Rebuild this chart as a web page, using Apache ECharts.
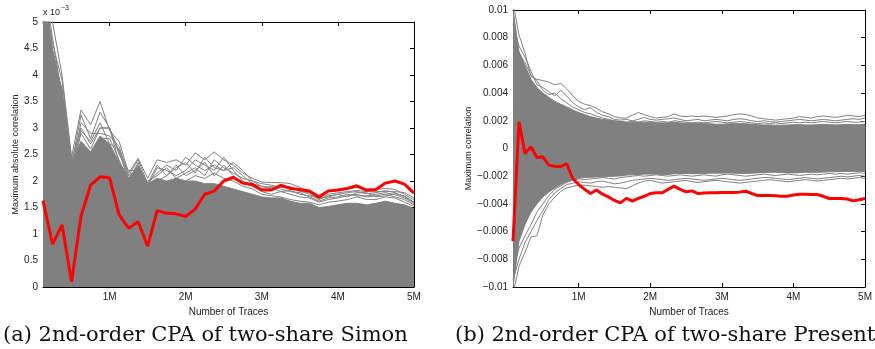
<!DOCTYPE html>
<html>
<head>
<meta charset="utf-8">
<script src="https://cdn.jsdelivr.net/npm/echarts@6/dist/echarts.min.js"></script>
<style>
html, body { margin: 0; padding: 0; background: #fff; }
#chart { width: 875px; height: 349px; }
</style>
</head>
<body>
<div id="chart"></div>
<script>
// (a) Simon: number of traces in millions, correlation in units of 1e-3
var tracesA = [0.125, 0.25, 0.375, 0.5, 0.625, 0.75, 0.875, 1, 1.125, 1.25,
    1.375, 1.5, 1.625, 1.75, 1.875, 2, 2.125, 2.25, 2.375, 2.5,
    2.625, 2.75, 2.875, 3, 3.125, 3.25, 3.375, 3.5, 3.625, 3.75,
    3.875, 4, 4.125, 4.25, 4.375, 4.5, 4.625, 4.75, 4.875, 5];
var correctA = [1.63, 0.81, 1.17, 0.10, 1.34, 1.92, 2.08, 2.06, 1.36, 1.11,
    1.23, 0.77, 1.44, 1.39, 1.38, 1.33, 1.47, 1.75, 1.81, 2.0,
    2.07, 1.96, 1.94, 1.83, 1.83, 1.92, 1.86, 1.84, 1.81, 1.70,
    1.81, 1.83, 1.86, 1.91, 1.83, 1.84, 1.96, 2.0, 1.94, 1.77];
// top of the solid mass of wrong-key traces
var wrongTopA = [5.8, 4.5, 3.7, 2.35, 2.75, 2.55, 2.85, 2.7, 2.35, 2.05,
    2.3, 1.95, 2.05, 2.0, 2.05, 2.0, 2.0, 1.95, 1.95, 1.9,
    1.85, 1.8, 1.75, 1.7, 1.68, 1.68, 1.62, 1.58, 1.58, 1.5,
    1.52, 1.55, 1.58, 1.58, 1.55, 1.58, 1.62, 1.58, 1.55, 1.48];
// single wrong-key traces above the mass
var wrong1A = [6.0, 5.0, 4.0, 2.45, 3.34, 3.06, 3.5, 2.95, 2.75, 2.15,
    2.43, 2.05, 2.4, 2.35, 2.4, 2.3, 2.53, 2.4, 2.55, 2.4,
    2.3, 2.15, 2.05, 1.98, 1.97, 1.97, 1.95, 1.88, 1.8, 1.72,
    1.8, 1.82, 1.85, 1.88, 1.83, 1.84, 1.86, 1.84, 1.75, 1.64];
var wrong2A = [5.5, 4.3, 3.75, 2.3, 3.25, 2.8, 3.3, 3.0, 2.5, 2.2,
    2.2, 1.95, 2.15, 2.3, 2.2, 2.45, 2.3, 2.2, 2.3, 2.2,
    2.25, 2.1, 1.95, 1.9, 1.85, 1.9, 1.85, 1.82, 1.75, 1.65,
    1.72, 1.75, 1.78, 1.8, 1.76, 1.78, 1.82, 1.78, 1.7, 1.6];
var wrong3A = [5.2, 4.1, 3.5, 2.15, 2.9, 2.6, 3.0, 3.0, 2.55, 2.0,
    2.35, 1.85, 2.0, 2.1, 2.3, 2.1, 2.2, 2.35, 2.1, 2.3,
    2.1, 1.95, 1.9, 1.8, 1.75, 1.8, 1.75, 1.7, 1.68, 1.6,
    1.65, 1.68, 1.72, 1.75, 1.7, 1.72, 1.75, 1.7, 1.65, 1.55];
var wrong4A = [5.0, 3.9, 3.2, 2.0, 2.7, 2.5, 2.8, 2.8, 2.4, 1.95,
    2.2, 1.8, 2.0, 1.95, 2.05, 2.0, 2.1, 2.05, 2.15, 2.05,
    2.0, 1.9, 1.85, 1.75, 1.72, 1.7, 1.65, 1.62, 1.6, 1.55,
    1.6, 1.62, 1.65, 1.7, 1.65, 1.65, 1.7, 1.68, 1.6, 1.52];
var wrong5A = [5.6, 4.6, 3.9, 2.4, 3.0, 2.7, 3.0, 3.0, 2.35, 2.1,
    2.25, 1.9, 2.25, 2.2, 2.1, 2.2, 2.4, 2.3, 2.2, 2.45,
    2.2, 2.0, 1.9, 1.85, 1.9, 1.85, 1.8, 1.78, 1.7, 1.62,
    1.68, 1.7, 1.75, 1.72, 1.72, 1.75, 1.78, 1.74, 1.68, 1.58];
var wrong6A = [5.3, 4.2, 3.4, 2.25, 2.95, 2.75, 3.1, 2.7, 2.6, 2.05,
    2.15, 2.0, 2.1, 2.25, 2.05, 2.15, 2.25, 2.1, 2.4, 2.25,
    2.15, 2.05, 2.0, 1.9, 1.88, 1.8, 1.82, 1.75, 1.72, 1.68,
    1.7, 1.75, 1.7, 1.78, 1.78, 1.7, 1.72, 1.76, 1.72, 1.6];
var wrong7A = [5.9, 4.7, 3.6, 2.2, 3.1, 2.9, 2.9, 2.85, 2.65, 2.1,
    2.4, 1.95, 2.3, 2.1, 2.25, 2.35, 2.15, 2.45, 2.25, 2.2,
    2.35, 2.2, 2.0, 1.95, 1.92, 1.88, 1.9, 1.8, 1.78, 1.66,
    1.75, 1.78, 1.8, 1.82, 1.8, 1.8, 1.8, 1.8, 1.78, 1.68];

// (b) Present: number of traces in millions, correlation in units of 1e-3
var tracesB = [0.083, 0.167, 0.25, 0.333, 0.417, 0.5, 0.583, 0.667, 0.75, 0.833,
    0.917, 1, 1.083, 1.167, 1.25, 1.333, 1.417, 1.5, 1.583, 1.667,
    1.75, 1.833, 1.917, 2, 2.083, 2.167, 2.25, 2.333, 2.417, 2.5,
    2.583, 2.667, 2.75, 2.833, 2.917, 3, 3.083, 3.167, 3.25, 3.333,
    3.417, 3.5, 3.583, 3.667, 3.75, 3.833, 3.917, 4, 4.083, 4.167,
    4.25, 4.333, 4.417, 4.5, 4.583, 4.667, 4.75, 4.833, 4.917, 5];
var correctB = [-6.7, 1.93, -0.36, 0.12, -0.65, -0.6, -1.2, -1.28, -1.3, -1.1,
    -2.17, -2.6, -2.95, -3.25, -3.0, -3.3, -3.5, -3.75, -3.93, -3.6,
    -3.8, -3.6, -3.45, -3.25, -3.2, -3.2, -2.95, -2.72, -2.95, -3.13,
    -3.06, -3.25, -3.22, -3.2, -3.2, -3.18, -3.18, -3.18, -3.15, -3.08,
    -3.25, -3.4, -3.4, -3.4, -3.42, -3.45, -3.45, -3.35, -3.3, -3.3,
    -3.32, -3.32, -3.45, -3.61, -3.61, -3.61, -3.65, -3.78, -3.7, -3.61];
// solid band of wrong-key traces
var bandHighB = [10, 7.0, 6.0, 5.0, 4.4, 4.0, 3.7, 3.4, 3.2, 3.0,
    2.8, 2.6, 2.45, 2.3, 2.2, 2.1, 2.05, 2.0, 1.95, 1.9,
    1.9, 1.9, 1.9, 1.88, 1.85, 1.85, 1.85, 1.9, 1.85, 1.82,
    1.8, 1.8, 1.8, 1.78, 1.75, 1.75, 1.78, 1.8, 1.8, 1.78,
    1.75, 1.72, 1.7, 1.7, 1.68, 1.68, 1.7, 1.72, 1.72, 1.7,
    1.7, 1.72, 1.75, 1.72, 1.7, 1.72, 1.75, 1.72, 1.72, 1.75];
var bandLowB = [-10, -6.7, -5.5, -4.6, -4.0, -3.5, -3.15, -2.85, -2.6, -2.4,
    -2.25, -2.15, -2.1, -2.08, -2.05, -2.05, -2.02, -2.0, -1.98, -1.92,
    -1.9, -1.88, -1.85, -1.85, -1.85, -1.88, -1.88, -1.82, -1.8, -1.8,
    -1.82, -1.82, -1.8, -1.78, -1.78, -1.78, -1.76, -1.78, -1.8, -1.8,
    -1.78, -1.76, -1.74, -1.72, -1.72, -1.74, -1.76, -1.76, -1.75, -1.72,
    -1.72, -1.72, -1.7, -1.68, -1.68, -1.66, -1.66, -1.65, -1.65, -1.66];
// single wrong-key traces outside the band
var up1B = [10.5, 8.2, 6.9, 5.2, 5.0, 4.9, 4.8, 4.6, 4.7, 4.3,
    3.8, 3.4, 3.2, 3.1, 2.9, 2.65, 2.5, 2.3, 2.2, 2.2,
    2.4, 2.6, 2.45, 2.3, 2.2, 2.25, 2.3, 2.5, 2.35, 2.3,
    2.35, 2.3, 2.35, 2.3, 2.25, 2.3, 2.35, 2.45, 2.5, 2.45,
    2.35, 2.2, 2.15, 2.1, 2.05, 2.1, 2.15, 2.2, 2.3, 2.25,
    2.2, 2.3, 2.35, 2.3, 2.25, 2.3, 2.4, 2.35, 2.3, 2.4];
var up2B = [9.0, 7.4, 6.6, 5.6, 4.6, 4.4, 4.1, 3.8, 4.2, 3.8,
    3.3, 3.0, 2.8, 2.95, 2.6, 2.4, 2.3, 2.1, 2.05, 2.1,
    2.0, 2.1, 2.25, 2.1, 2.05, 2.1, 2.15, 2.2, 2.1, 2.0,
    2.05, 2.1, 2.0, 2.05, 2.1, 2.05, 2.0, 2.1, 2.15, 2.1,
    2.0, 1.95, 2.0, 1.95, 1.9, 1.95, 2.0, 2.05, 2.1, 2.05,
    2.0, 2.05, 2.1, 2.05, 2.0, 2.05, 2.1, 2.15, 2.1, 2.2];
var up3B = [8.0, 6.9, 6.2, 5.3, 4.9, 4.2, 3.9, 4.0, 3.6, 3.3,
    3.0, 2.8, 2.6, 2.5, 2.35, 2.2, 2.1, 2.0, 1.95, 1.9,
    1.95, 1.9, 2.0, 1.95, 1.9, 1.95, 1.9, 2.0, 1.95, 1.9,
    1.85, 1.9, 1.85, 1.9, 1.95, 1.9, 1.85, 1.9, 1.95, 1.9,
    1.85, 1.8, 1.85, 1.8, 1.85, 1.8, 1.85, 1.9, 1.85, 1.9,
    1.85, 1.9, 1.95, 1.9, 1.85, 1.9, 1.95, 1.9, 1.9, 1.95];
var lo1B = [-10.5, -8.5, -7.5, -6.4, -6.3, -4.8, -4.0, -3.5, -3.1, -2.85,
    -2.75, -2.65, -2.65, -2.7, -2.75, -2.8, -2.75, -2.8, -2.85, -2.9,
    -2.7, -2.5, -2.35, -2.3, -2.4, -2.5, -2.45, -2.4, -2.35, -2.3,
    -2.4, -2.45, -2.4, -2.35, -2.3, -2.35, -2.4, -2.45, -2.5, -2.45,
    -2.4, -2.35, -2.3, -2.25, -2.3, -2.35, -2.4, -2.35, -2.3, -2.25,
    -2.3, -2.35, -2.3, -2.25, -2.2, -2.15, -2.2, -2.15, -2.1, -2.15];
var lo2B = [-9.5, -8.0, -6.8, -6.0, -5.2, -4.5, -3.7, -3.2, -2.9, -2.6,
    -2.5, -2.4, -2.45, -2.5, -2.4, -2.35, -2.45, -2.55, -2.5, -2.4,
    -2.3, -2.25, -2.2, -2.15, -2.2, -2.25, -2.3, -2.25, -2.2, -2.15,
    -2.2, -2.25, -2.3, -2.25, -2.2, -2.15, -2.2, -2.25, -2.3, -2.25,
    -2.2, -2.15, -2.1, -2.1, -2.15, -2.2, -2.25, -2.2, -2.15, -2.1,
    -2.15, -2.2, -2.15, -2.1, -2.05, -2.0, -2.05, -2.0, -1.95, -2.0];
var lo3B = [-8.8, -7.2, -6.3, -5.5, -4.6, -4.0, -3.4, -2.95, -2.7, -2.45,
    -2.3, -2.2, -2.25, -2.2, -2.15, -2.1, -2.15, -2.2, -2.1, -2.05,
    -2.0, -1.95, -2.0, -1.95, -1.9, -1.95, -2.0, -1.95, -1.9, -1.95,
    -2.0, -1.95, -1.9, -1.95, -2.0, -1.9, -1.85, -1.9, -1.95, -2.0,
    -1.95, -1.9, -1.85, -1.9, -1.95, -1.9, -1.85, -1.9, -1.95, -1.9,
    -1.85, -1.9, -1.85, -1.8, -1.85, -1.8, -1.85, -1.8, -1.75, -1.8];

var xTickVals = [1, 2, 3, 4, 5];
var xTickLabels = ['1M', '2M', '3M', '4M', '5M'];
var yTickLabelsA = ['0', '0.5', '1', '1.5', '2', '2.5', '3', '3.5', '4', '4.5', '5'];
var yTickLabelsB = ['\u22120.01', '\u22120.008', '\u22120.006', '\u22120.004', '\u22120.002', '0',
    '0.002', '0.004', '0.006', '0.008', '0.01'];

var GRAY = '#808080';
var RED = '#ff0000';
var FONT = 'Liberation Sans';

function pairs(xs, ys) {
    return xs.map(function (x, i) { return [x, ys[i]]; });
}

function xAxisFor(grid, pos, xmin, withLabels) {
    return {
        type: 'value', gridIndex: grid, position: pos, min: xmin, max: 5,
        splitLine: { show: false },
        axisLine: { show: true, onZero: false, lineStyle: { color: '#000', width: 1 } },
        axisTick: { show: true, inside: true, length: 4, customValues: xTickVals,
            lineStyle: { color: '#000' } },
        axisLabel: { show: withLabels, customValues: xTickVals, margin: 5,
            fontFamily: FONT, fontSize: 10, color: '#222',
            formatter: function (v) { return xTickLabels[xTickVals.indexOf(v)]; } },
        name: withLabels ? 'Number of Traces' : '',
        nameLocation: 'middle', nameGap: 17,
        nameTextStyle: { fontFamily: FONT, fontSize: 10, color: '#222' }
    };
}

function yAxisFor(grid, pos, ymin, ymax, step, labels, name, gap) {
    return {
        type: 'value', gridIndex: grid, position: pos, min: ymin, max: ymax, interval: step,
        splitLine: { show: false },
        axisLine: { show: true, onZero: false, lineStyle: { color: '#000', width: 1 } },
        axisTick: { show: true, inside: true, length: 4, lineStyle: { color: '#000' } },
        axisLabel: { show: !!labels, margin: 5, fontFamily: FONT, fontSize: 10, color: '#222',
            formatter: function (v) { return labels ? labels[Math.round((v - ymin) / step)] : ''; } },
        name: name || '', nameLocation: 'middle', nameGap: gap || 0,
        nameTextStyle: { fontFamily: FONT, fontSize: 9, color: '#222' }
    };
}

function grayLine(xi, yi, xs, ys) {
    return { type: 'line', xAxisIndex: xi, yAxisIndex: yi, data: pairs(xs, ys),
        symbol: 'none', silent: true, z: 3,
        lineStyle: { color: GRAY, width: 1 } };
}

var series = [];
// (a) solid mass from 0 up to its top
series.push({ type: 'line', xAxisIndex: 0, yAxisIndex: 0, data: pairs(tracesA, wrongTopA),
    symbol: 'none', silent: true, z: 2,
    lineStyle: { color: GRAY, width: 1 }, areaStyle: { color: GRAY, opacity: 1, origin: 'start' } });
[wrong1A, wrong2A, wrong3A, wrong4A, wrong5A, wrong6A, wrong7A].forEach(function (ys) {
    series.push(grayLine(0, 0, tracesA, ys));
});
series.push({ type: 'line', xAxisIndex: 0, yAxisIndex: 0, data: pairs(tracesA, correctA),
    symbol: 'none', z: 5, lineStyle: { color: RED, width: 3 } });

// (b) solid band between bandLowB and bandHighB, drawn as one polygon
series.push({ type: 'custom', xAxisIndex: 2, yAxisIndex: 2, silent: true, z: 2, clip: true,
    data: [[tracesB[0], 0]],
    renderItem: function (params, api) {
        var pts = [];
        for (var i = 0; i < tracesB.length; i++) {
            pts.push(api.coord([tracesB[i], bandHighB[i]]));
        }
        for (var j = tracesB.length - 1; j >= 0; j--) {
            pts.push(api.coord([tracesB[j], bandLowB[j]]));
        }
        return { type: 'polygon', shape: { points: pts },
            style: { fill: GRAY, stroke: GRAY, lineWidth: 1 } };
    } });
[up1B, up2B, up3B, lo1B, lo2B, lo3B].forEach(function (ys) {
    series.push(grayLine(2, 2, tracesB, ys));
});
series.push({ type: 'line', xAxisIndex: 2, yAxisIndex: 2, data: pairs(tracesB, correctB),
    symbol: 'none', z: 5, lineStyle: { color: RED, width: 3 } });

var chart = echarts.init(document.getElementById('chart'), null, { renderer: 'canvas' });
chart.setOption({
    animation: false,
    backgroundColor: '#fff',
    grid: [
        { left: 43, top: 22, width: 371, height: 265 },
        { left: 513, top: 10, width: 358, height: 277 }
    ],
    xAxis: [
        xAxisFor(0, 'bottom', tracesA[0], true),
        xAxisFor(0, 'top', tracesA[0], false),
        xAxisFor(1, 'bottom', tracesB[0], true),
        xAxisFor(1, 'top', tracesB[0], false)
    ],
    yAxis: [
        yAxisFor(0, 'left', 0, 5, 0.5, yTickLabelsA, 'Maximum absolute correlation', 22),
        yAxisFor(0, 'right', 0, 5, 0.5, null),
        yAxisFor(1, 'left', -10, 10, 2, yTickLabelsB, 'Maximum correlation', 40),
        yAxisFor(1, 'right', -10, 10, 2, null)
    ],
    series: series,
    graphic: [
        { type: 'text', left: 43, top: 5, silent: true,
          style: { text: '{a|x 10}{b|\u22123}', rich: {
              a: { fontFamily: FONT, fontSize: 9, fill: '#222', padding: [4, 0, 0, 0] },
              b: { fontFamily: FONT, fontSize: 7, fill: '#222', padding: [0, 0, 4, 1] } } } },
        { type: 'text', left: 3, top: 325, silent: true,
          style: { text: '(a) 2nd-order CPA of two-share Simon', fontFamily: 'DejaVu Serif',
              fontSize: 21, fill: '#111' } },
        { type: 'text', left: 455, top: 325, silent: true,
          style: { text: '(b) 2nd-order CPA of two-share Present', fontFamily: 'DejaVu Serif',
              fontSize: 21, fill: '#111' } }
    ]
});
</script>
</body>
</html>
